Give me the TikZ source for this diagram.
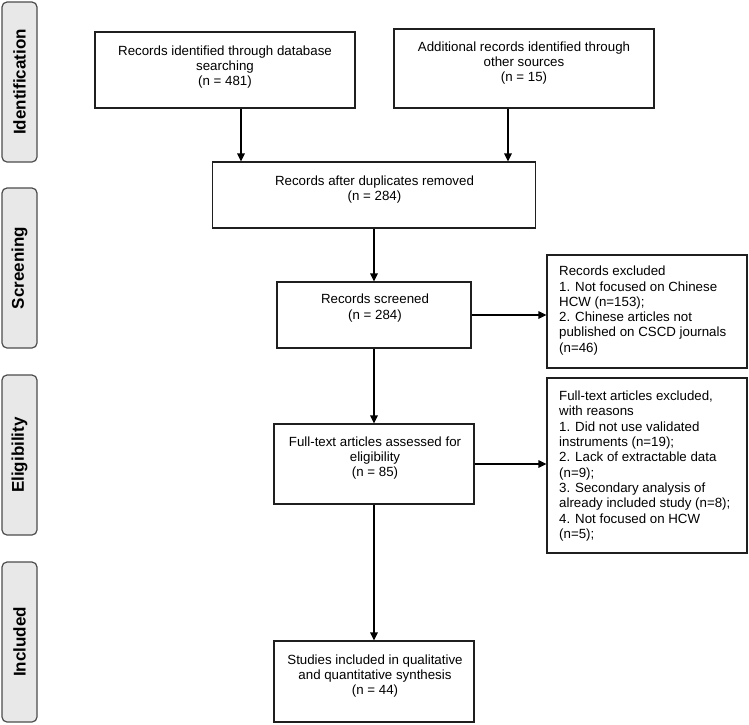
\documentclass[tikz,border=0pt]{standalone}
\usepackage{fontspec}
\setmainfont{Liberation Sans}
\usetikzlibrary{arrows.meta}
\begin{document}
\begin{tikzpicture}[x=1pt,y=-1pt,
  phase/.style={draw=black!70, fill=black!9, rounded corners=5pt, line width=1.2pt, minimum width=35pt, minimum height=160pt, inner sep=0},
  phasetxt/.style={rotate=90, font=\fontsize{17}{20}\selectfont\bfseries, inner sep=0},
  box/.style={draw=black!88, line width=1.1pt, inner sep=0},
  lbl/.style={font=\fontsize{13.3}{15.2}\selectfont, align=center, inner sep=0},
  lbll/.style={font=\fontsize{13.3}{15.3}\selectfont, align=left, inner sep=0, anchor=west},
  arr/.style={draw=black, line width=1.1pt, -{Triangle[length=8pt,width=7.5pt]}}
]
\useasboundingbox (0,0) rectangle (749,724);

% phase labels
\node[phase] (p1) at (19.5,82) {};
\node[phasetxt] (pt1) at (p1.center) {Identification};
\node[phase] (p2) at (19.5,268) {};
\node[phasetxt] (pt2) at (p2.center) {Screening};
\node[phase] (p3) at (19.5,455) {};
\node[phasetxt] (pt3) at (p3.center) {Eligibility};
\node[phase] (p4) at (19.5,642) {};
\node[phasetxt] (pt4) at (p4.center) {Included};

% boxes
\node[box, minimum width=260pt, minimum height=76pt] (b1) at (225,70) {};
\node[lbl] (t1) at (225,67) {Records identified through database\\searching\\(n = 481)};
\node[box, minimum width=260pt, minimum height=79pt] (b2) at (524,68.5) {};
\node[lbl] (t2) at (524,63) {Additional records identified through\\other sources\\(n = 15)};
\node[box, minimum width=323pt, minimum height=66pt] (b3) at (374,195) {};
\node[lbl] (t3) at (374.5,189.5) {Records after duplicates removed\\(n = 284)};
\node[box, minimum width=194pt, minimum height=66pt] (b4) at (374,315) {};
\node[lbl] (t4) at (375,308) {Records screened\\(n = 284)};
\node[box, minimum width=200pt, minimum height=80pt] (b5) at (374,464) {};
\node[lbl] (t5) at (375,458) {Full-text articles assessed for\\eligibility\\(n = 85)};
\node[box, minimum width=200pt, minimum height=81pt] (b6) at (374,681.5) {};
\node[lbl] (t6) at (375,676) {Studies included in qualitative\\and quantitative synthesis\\(n = 44)};

\node[box, minimum width=200pt, minimum height=113pt] (e1) at (647,311.5) {};
\node[lbll] (te1) at (559,310.5) {Records excluded\\1. Not focused on Chinese\\HCW (n=153);\\2. Chinese articles not\\published on CSCD journals\\(n=46)};
\node[box, minimum width=200pt, minimum height=175pt] (e2) at (647,465.5) {};
\node[lbll] (te2) at (559,466) {Full-text articles excluded,\\with reasons\\1. Did not use validated\\instruments (n=19);\\2. Lack of extractable data\\(n=9);\\3. Secondary analysis of\\already included study (n=8);\\4. Not focused on HCW\\(n=5);};

% connectors
\draw[arr] ([xshift=16pt]b1.south) -- ([xshift=16pt]b1.south |- b3.north);
\draw[arr] ([xshift=-16pt]b2.south) -- ([xshift=-16pt]b2.south |- b3.north);
\draw[arr] (b3.south) -- (b4.north);
\draw[arr] (b4.east) -- (b4.east -| e1.west);
\draw[arr] (b4.south) -- (b5.north);
\draw[arr] (b5.east) -- (b5.east -| e2.west);
\draw[arr] (b5.south) -- (b6.north);
\end{tikzpicture}
\end{document}
